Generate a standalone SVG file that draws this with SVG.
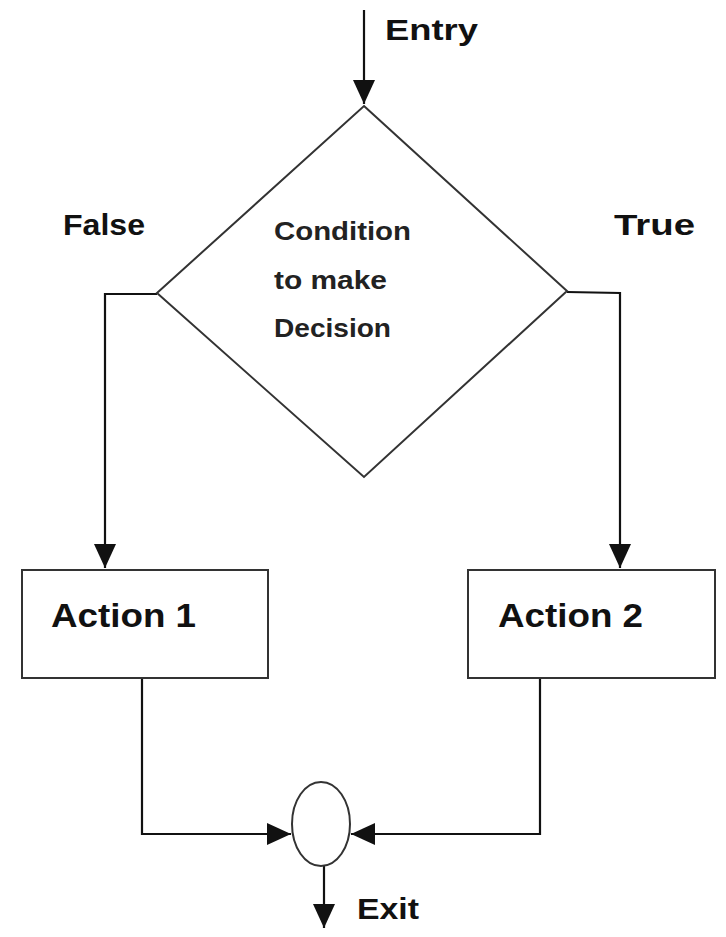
<svg xmlns="http://www.w3.org/2000/svg" width="726" height="937" viewBox="0 0 726 937">
<style>
.lbl{font-family:"Liberation Sans",Arial,sans-serif;font-weight:bold;fill:#111}
.cond{font-family:"Liberation Sans",Arial,sans-serif;font-weight:bold;fill:#222;font-size:25px}
.conn{fill:none;stroke:#111;stroke-width:2.2}
.shape{fill:#fff;stroke:#333;stroke-width:2}
</style>
<defs>
<marker id="ahb" viewBox="0 0 24 22" refX="24" refY="11" markerWidth="24" markerHeight="22" markerUnits="userSpaceOnUse" orient="auto">
<path d="M0,0 L24,11 L0,22 z" fill="#111"/>
</marker>
</defs>
<g id="connectors">
<path class="conn" d="M364,10 V104" marker-end="url(#ahb)"/>
<path class="conn" d="M157,294 H105 V568" marker-end="url(#ahb)"/>
<path class="conn" d="M567,292 L620,293 V568" marker-end="url(#ahb)"/>
<path class="conn" d="M142,678 V834 H291" marker-end="url(#ahb)"/>
<path class="conn" d="M540,678 V834 H351" marker-end="url(#ahb)"/>
<path class="conn" d="M324,866 V928" marker-end="url(#ahb)"/>
</g>
<g id="entry-label"><text class="lbl" x="385" y="40" font-size="29" textLength="93" lengthAdjust="spacingAndGlyphs">Entry</text></g>
<g id="decision">
<polygon class="shape" points="364,106 567,291 364,477 157,293"/>
<text class="cond" x="274" y="240" textLength="137" lengthAdjust="spacingAndGlyphs">Condition</text>
<text class="cond" x="274" y="289" textLength="113" lengthAdjust="spacingAndGlyphs">to make</text>
<text class="cond" x="274" y="337" textLength="117" lengthAdjust="spacingAndGlyphs">Decision</text>
</g>
<g id="false-label"><text class="lbl" x="63" y="235" font-size="29" textLength="82" lengthAdjust="spacingAndGlyphs">False</text></g>
<g id="true-label"><text class="lbl" x="614" y="235" font-size="29" textLength="81" lengthAdjust="spacingAndGlyphs">True</text></g>
<g id="action1">
<rect class="shape" x="22" y="570" width="246" height="108"/>
<text class="lbl" x="51" y="627" font-size="33" textLength="145" lengthAdjust="spacingAndGlyphs">Action 1</text>
</g>
<g id="action2">
<rect class="shape" x="468" y="570" width="247" height="108"/>
<text class="lbl" x="498" y="627" font-size="33" textLength="145" lengthAdjust="spacingAndGlyphs">Action 2</text>
</g>
<g id="junction">
<ellipse class="shape" cx="321" cy="824" rx="29" ry="42"/>
</g>
<g id="exit-label"><text class="lbl" x="357" y="919" font-size="29" textLength="62" lengthAdjust="spacingAndGlyphs">Exit</text></g>
</svg>
